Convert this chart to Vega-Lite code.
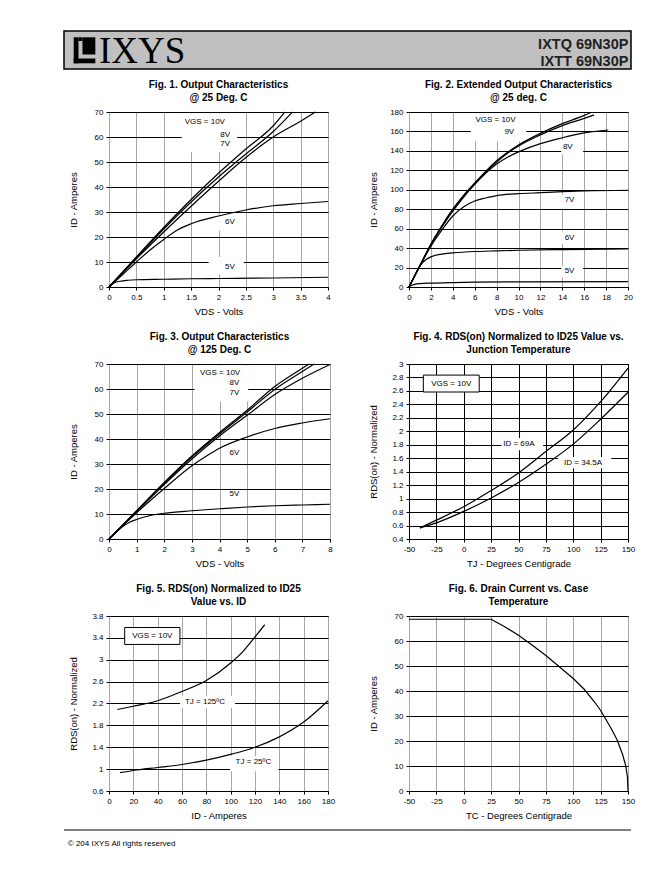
{
  "$schema": "https://vega.github.io/schema/vega-lite/v6.json",
  "background": "white",
  "padding": {"left": 63, "top": 30, "right": 0, "bottom": 0},
  "config": {
    "font": "Liberation Sans",
    "locale": {"number": {"decimal": ".", "thousands": ",", "grouping": [3], "currency": ["$", ""], "minus": "-"}},
    "view": {"stroke": "#000", "strokeWidth": 1},
    "axis": {"labelFont": "Liberation Sans", "labelFontSize": 8, "labelColor": "#000", "titleFont": "Liberation Sans", "titleFontSize": 9.5, "titleFontWeight": "normal", "titleColor": "#000", "tickColor": "#000", "tickSize": 3, "domain": false, "gridOpacity": 1, "gridWidth": 1, "labelPadding": 3, "labelExpr": "format(datum.value, '~r')", "labelOverlap": false, "labelFlush": false},
    "axisY": {"gridColor": "#000", "minExtent": 21, "maxExtent": 21, "titlePadding": 10},
    "axisX": {"gridColor": "#a6a6a6", "titlePadding": 5},
    "title": {"font": "Liberation Sans", "fontSize": 10, "fontWeight": "bold", "color": "#000", "anchor": "middle", "frame": "group", "offset": 5, "lineHeight": 13},
    "text": {"font": "Liberation Sans", "fontSize": 8, "color": "#000"}
  },
  "datasets": {
    "box": [{"x": -8.62, "x2": 100, "y": 0, "y2": 100}],
    "logo": [
      {"x": -6.76, "x2": -5.84, "y": 15, "y2": 83.4},
      {"x": -6.76, "x2": -2.62, "y": 15, "y2": 27.6},
      {"x": -5.08, "x2": -2.62, "y": 38.2, "y2": 83.4},
      {"x": -5.84, "x2": -5.08, "y": 73.7, "y2": 83.4}
    ],
    "brand": [{"t": "IXYS", "x": -1.92, "y": 17.1}],
    "parts": [{"t": "IXTQ  69N30P", "x": 99.5, "y": 52.6}, {"t": "IXTT  69N30P", "x": 99.5, "y": 8.7}],
    "footline": [{"x": -8.62, "x2": 100, "y": 100}],
    "foottext": [{"t": "© 204 IXYS All rights reserved", "x": -7.9, "y": 22}],
    "d1": [
      {"c": "10V", "x": 0, "y": 0}, {"c": "10V", "x": 0.25, "y": 6}, {"c": "10V", "x": 0.5, "y": 12}, {"c": "10V", "x": 1, "y": 23.8}, {"c": "10V", "x": 1.5, "y": 35}, {"c": "10V", "x": 2, "y": 45.5}, {"c": "10V", "x": 2.5, "y": 55.2}, {"c": "10V", "x": 3, "y": 64.5}, {"c": "10V", "x": 3.21, "y": 70},
      {"c": "8V", "x": 0, "y": 0}, {"c": "8V", "x": 0.5, "y": 11.7}, {"c": "8V", "x": 1, "y": 23.2}, {"c": "8V", "x": 1.5, "y": 34}, {"c": "8V", "x": 2, "y": 44}, {"c": "8V", "x": 2.5, "y": 53.2}, {"c": "8V", "x": 3, "y": 62.2}, {"c": "8V", "x": 3.35, "y": 70},
      {"c": "7V", "x": 0, "y": 0}, {"c": "7V", "x": 0.5, "y": 11.3}, {"c": "7V", "x": 1, "y": 22}, {"c": "7V", "x": 1.5, "y": 32.3}, {"c": "7V", "x": 2, "y": 42.3}, {"c": "7V", "x": 2.5, "y": 51.8}, {"c": "7V", "x": 3, "y": 60}, {"c": "7V", "x": 3.5, "y": 66.3}, {"c": "7V", "x": 3.77, "y": 70},
      {"c": "6V", "x": 0, "y": 0}, {"c": "6V", "x": 0.25, "y": 5}, {"c": "6V", "x": 0.5, "y": 10}, {"c": "6V", "x": 0.75, "y": 14.8}, {"c": "6V", "x": 1, "y": 19}, {"c": "6V", "x": 1.25, "y": 22.8}, {"c": "6V", "x": 1.5, "y": 25.3}, {"c": "6V", "x": 2, "y": 28.4}, {"c": "6V", "x": 2.5, "y": 30.8}, {"c": "6V", "x": 3, "y": 32.5}, {"c": "6V", "x": 3.5, "y": 33.4}, {"c": "6V", "x": 4, "y": 34.2},
      {"c": "5V", "x": 0, "y": 0}, {"c": "5V", "x": 0.05, "y": 1}, {"c": "5V", "x": 0.1, "y": 1.7}, {"c": "5V", "x": 0.2, "y": 2.3}, {"c": "5V", "x": 0.35, "y": 2.7}, {"c": "5V", "x": 0.5, "y": 2.9}, {"c": "5V", "x": 1, "y": 3.1}, {"c": "5V", "x": 1.5, "y": 3.3}, {"c": "5V", "x": 2, "y": 3.4}, {"c": "5V", "x": 3, "y": 3.6}, {"c": "5V", "x": 4, "y": 3.9}
    ],
    "m1": [
      {"x": 1.33, "x2": 2.34, "y": 54, "y2": 69.4},
      {"x": 1.95, "x2": 2.47, "y": 22.5, "y2": 29},
      {"x": 1.82, "x2": 2.46, "y": 5, "y2": 12}
    ],
    "t1": [
      {"t": "VGS = 10V", "x": 1.75, "y": 66.1},
      {"t": "8V", "x": 2.12, "y": 61},
      {"t": "7V", "x": 2.12, "y": 57.4},
      {"t": "6V", "x": 2.21, "y": 25.9},
      {"t": "5V", "x": 2.21, "y": 8.2}
    ],
    "d2": [
      {"c": "10V", "x": 0, "y": 0}, {"c": "10V", "x": 0.5, "y": 11}, {"c": "10V", "x": 1, "y": 22}, {"c": "10V", "x": 2, "y": 44}, {"c": "10V", "x": 3, "y": 63}, {"c": "10V", "x": 4, "y": 80}, {"c": "10V", "x": 5, "y": 94.5}, {"c": "10V", "x": 6, "y": 107}, {"c": "10V", "x": 7, "y": 119}, {"c": "10V", "x": 8, "y": 130}, {"c": "10V", "x": 9, "y": 138.5}, {"c": "10V", "x": 10, "y": 146}, {"c": "10V", "x": 12, "y": 158}, {"c": "10V", "x": 14, "y": 168}, {"c": "10V", "x": 16, "y": 176.5}, {"c": "10V", "x": 16.6, "y": 179.5},
      {"c": "9V", "x": 0, "y": 0}, {"c": "9V", "x": 0.5, "y": 11}, {"c": "9V", "x": 1, "y": 22}, {"c": "9V", "x": 2, "y": 44}, {"c": "9V", "x": 3, "y": 62.5}, {"c": "9V", "x": 4, "y": 79.5}, {"c": "9V", "x": 5, "y": 94}, {"c": "9V", "x": 6, "y": 106}, {"c": "9V", "x": 7, "y": 118}, {"c": "9V", "x": 8, "y": 128.5}, {"c": "9V", "x": 9, "y": 137.5}, {"c": "9V", "x": 10, "y": 145}, {"c": "9V", "x": 12, "y": 156.5}, {"c": "9V", "x": 14, "y": 166}, {"c": "9V", "x": 16, "y": 173.5}, {"c": "9V", "x": 16.9, "y": 177},
      {"c": "8V", "x": 0, "y": 0}, {"c": "8V", "x": 0.5, "y": 11}, {"c": "8V", "x": 1, "y": 22}, {"c": "8V", "x": 2, "y": 43.5}, {"c": "8V", "x": 3, "y": 61.5}, {"c": "8V", "x": 4, "y": 78}, {"c": "8V", "x": 5, "y": 92.5}, {"c": "8V", "x": 6, "y": 105.5}, {"c": "8V", "x": 7, "y": 117}, {"c": "8V", "x": 8, "y": 126.5}, {"c": "8V", "x": 9, "y": 133.5}, {"c": "8V", "x": 10, "y": 139}, {"c": "8V", "x": 12, "y": 147.5}, {"c": "8V", "x": 14, "y": 153.5}, {"c": "8V", "x": 16, "y": 158.5}, {"c": "8V", "x": 18.2, "y": 161.5},
      {"c": "7V", "x": 0, "y": 0}, {"c": "7V", "x": 0.5, "y": 11}, {"c": "7V", "x": 1, "y": 21.5}, {"c": "7V", "x": 2, "y": 42}, {"c": "7V", "x": 3, "y": 58.5}, {"c": "7V", "x": 4, "y": 73}, {"c": "7V", "x": 5, "y": 82.5}, {"c": "7V", "x": 6, "y": 88.5}, {"c": "7V", "x": 7, "y": 91.5}, {"c": "7V", "x": 8, "y": 94}, {"c": "7V", "x": 10, "y": 96}, {"c": "7V", "x": 12, "y": 97}, {"c": "7V", "x": 14, "y": 98}, {"c": "7V", "x": 16, "y": 98.8}, {"c": "7V", "x": 20, "y": 99.5},
      {"c": "6V", "x": 0, "y": 0}, {"c": "6V", "x": 0.4, "y": 9}, {"c": "6V", "x": 0.8, "y": 18}, {"c": "6V", "x": 1.2, "y": 24.5}, {"c": "6V", "x": 1.6, "y": 28.5}, {"c": "6V", "x": 2, "y": 31}, {"c": "6V", "x": 3, "y": 33.8}, {"c": "6V", "x": 4, "y": 35}, {"c": "6V", "x": 6, "y": 36.5}, {"c": "6V", "x": 8, "y": 37.2}, {"c": "6V", "x": 10, "y": 37.8}, {"c": "6V", "x": 14, "y": 38.5}, {"c": "6V", "x": 20, "y": 39.2},
      {"c": "5V", "x": 0, "y": 0}, {"c": "5V", "x": 0.3, "y": 2}, {"c": "5V", "x": 0.6, "y": 3}, {"c": "5V", "x": 1, "y": 3.5}, {"c": "5V", "x": 2, "y": 4}, {"c": "5V", "x": 4, "y": 4.6}, {"c": "5V", "x": 6, "y": 5}, {"c": "5V", "x": 10, "y": 5.3}, {"c": "5V", "x": 20, "y": 5.6}
    ],
    "m2": [
      {"x": 5.65, "x2": 10.7, "y": 150, "y2": 179},
      {"x": 13.9, "x2": 15.9, "y": 136, "y2": 151},
      {"x": 13.9, "x2": 15.9, "y": 80.5, "y2": 95},
      {"x": 13.9, "x2": 15.9, "y": 44, "y2": 57},
      {"x": 13.9, "x2": 15.9, "y": 10, "y2": 22}
    ],
    "t2": [
      {"t": "VGS = 10V", "x": 7.9, "y": 171.4},
      {"t": "9V", "x": 9.16, "y": 159.7},
      {"t": "8V", "x": 14.5, "y": 144.3},
      {"t": "7V", "x": 14.66, "y": 89},
      {"t": "6V", "x": 14.66, "y": 50.5},
      {"t": "5V", "x": 14.66, "y": 16.1}
    ],
    "d3": [
      {"c": "10V", "x": 0, "y": 0}, {"c": "10V", "x": 1, "y": 11.3}, {"c": "10V", "x": 2, "y": 22.6}, {"c": "10V", "x": 3, "y": 33.2}, {"c": "10V", "x": 4, "y": 42.6}, {"c": "10V", "x": 5, "y": 51.5}, {"c": "10V", "x": 6, "y": 61}, {"c": "10V", "x": 7, "y": 68.3}, {"c": "10V", "x": 7.24, "y": 70},
      {"c": "8V", "x": 0, "y": 0}, {"c": "8V", "x": 1, "y": 11.2}, {"c": "8V", "x": 2, "y": 22.3}, {"c": "8V", "x": 3, "y": 32.8}, {"c": "8V", "x": 4, "y": 42}, {"c": "8V", "x": 5, "y": 50.8}, {"c": "8V", "x": 6, "y": 59.8}, {"c": "8V", "x": 7, "y": 67}, {"c": "8V", "x": 7.42, "y": 70},
      {"c": "7V", "x": 0, "y": 0}, {"c": "7V", "x": 1, "y": 11}, {"c": "7V", "x": 2, "y": 21.8}, {"c": "7V", "x": 3, "y": 32}, {"c": "7V", "x": 4, "y": 41.2}, {"c": "7V", "x": 5, "y": 49.5}, {"c": "7V", "x": 6, "y": 57.8}, {"c": "7V", "x": 7, "y": 64.3}, {"c": "7V", "x": 8, "y": 69.8},
      {"c": "6V", "x": 0, "y": 0}, {"c": "6V", "x": 1, "y": 10.5}, {"c": "6V", "x": 2, "y": 20.2}, {"c": "6V", "x": 3, "y": 29.3}, {"c": "6V", "x": 3.5, "y": 33}, {"c": "6V", "x": 4, "y": 36.3}, {"c": "6V", "x": 5, "y": 40.8}, {"c": "6V", "x": 6, "y": 44.2}, {"c": "6V", "x": 7, "y": 46.4}, {"c": "6V", "x": 8, "y": 48.1},
      {"c": "5V", "x": 0, "y": 0}, {"c": "5V", "x": 0.5, "y": 5}, {"c": "5V", "x": 0.75, "y": 6.7}, {"c": "5V", "x": 1, "y": 7.8}, {"c": "5V", "x": 1.5, "y": 9.4}, {"c": "5V", "x": 2, "y": 10.3}, {"c": "5V", "x": 3, "y": 11.3}, {"c": "5V", "x": 4, "y": 12.1}, {"c": "5V", "x": 5, "y": 12.8}, {"c": "5V", "x": 6, "y": 13.3}, {"c": "5V", "x": 7, "y": 13.6}, {"c": "5V", "x": 8, "y": 13.9}
    ],
    "m3": [
      {"x": 3.1, "x2": 5.04, "y": 55, "y2": 69.4}
    ],
    "t3": [
      {"t": "VGS = 10V", "x": 4.02, "y": 66.4},
      {"t": "8V", "x": 4.54, "y": 62.4},
      {"t": "7V", "x": 4.54, "y": 58.4},
      {"t": "6V", "x": 4.54, "y": 34.5},
      {"t": "5V", "x": 4.54, "y": 17.9}
    ],
    "d4": [
      {"c": "69A", "x": -40, "y": 0.565}, {"c": "69A", "x": -25, "y": 0.68}, {"c": "69A", "x": 0, "y": 0.88}, {"c": "69A", "x": 25, "y": 1.12}, {"c": "69A", "x": 50, "y": 1.38}, {"c": "69A", "x": 75, "y": 1.7}, {"c": "69A", "x": 100, "y": 2.02}, {"c": "69A", "x": 125, "y": 2.44}, {"c": "69A", "x": 150, "y": 2.94},
      {"c": "34.5A", "x": -40, "y": 0.565}, {"c": "34.5A", "x": -25, "y": 0.64}, {"c": "34.5A", "x": 0, "y": 0.81}, {"c": "34.5A", "x": 25, "y": 1.01}, {"c": "34.5A", "x": 50, "y": 1.24}, {"c": "34.5A", "x": 75, "y": 1.51}, {"c": "34.5A", "x": 100, "y": 1.81}, {"c": "34.5A", "x": 125, "y": 2.18}, {"c": "34.5A", "x": 150, "y": 2.58}
    ],
    "m4": [
      {"x": 34.5, "x2": 72.5, "y": 1.72, "y2": 1.9},
      {"x": 86.2, "x2": 134.8, "y": 1.45, "y2": 1.62}
    ],
    "b4": [
      {"x": -36.9, "x2": 14.1, "y": 2.584, "y2": 2.835}
    ],
    "t4": [
      {"t": "VGS = 10V", "x": -11.4, "y": 2.71},
      {"t": "ID = 69A", "x": 50.3, "y": 1.81},
      {"t": "ID = 34.5A", "x": 109, "y": 1.53}
    ],
    "d5": [
      {"c": "125", "x": 6.9, "y": 2.09}, {"c": "125", "x": 20, "y": 2.15}, {"c": "125", "x": 40, "y": 2.25}, {"c": "125", "x": 60, "y": 2.42}, {"c": "125", "x": 80, "y": 2.62}, {"c": "125", "x": 100, "y": 2.94}, {"c": "125", "x": 110, "y": 3.15}, {"c": "125", "x": 120, "y": 3.42}, {"c": "125", "x": 128, "y": 3.64},
      {"c": "25", "x": 9, "y": 0.935}, {"c": "25", "x": 20, "y": 0.975}, {"c": "25", "x": 40, "y": 1.03}, {"c": "25", "x": 60, "y": 1.085}, {"c": "25", "x": 80, "y": 1.165}, {"c": "25", "x": 100, "y": 1.27}, {"c": "25", "x": 120, "y": 1.4}, {"c": "25", "x": 140, "y": 1.59}, {"c": "25", "x": 160, "y": 1.86}, {"c": "25", "x": 180, "y": 2.25}
    ],
    "m5": [
      {"x": 58.3, "x2": 103.6, "y": 2.12, "y2": 2.34},
      {"x": 99.5, "x2": 139.3, "y": 0.96, "y2": 1.24}
    ],
    "b5": [
      {"x": 12.9, "x2": 58.3, "y": 3.28, "y2": 3.59}
    ],
    "t5": [
      {"t": "VGS = 10V", "x": 35.6, "y": 3.435},
      {"t": "TJ = 125ºC", "x": 78.9, "y": 2.23},
      {"t": "TJ = 25ºC", "x": 118.7, "y": 1.137}
    ],
    "d6": [
      {"x": -50, "y": 68.7}, {"x": 25, "y": 68.7}, {"x": 37, "y": 65.8}, {"x": 50, "y": 62.3}, {"x": 62, "y": 58.5}, {"x": 75, "y": 54.2}, {"x": 87, "y": 49.8}, {"x": 100, "y": 45}, {"x": 110, "y": 40.7}, {"x": 120, "y": 35.3}, {"x": 125, "y": 32.2}, {"x": 130, "y": 28.5}, {"x": 135, "y": 24.7}, {"x": 140, "y": 20.5}, {"x": 145, "y": 14.7}, {"x": 148, "y": 10}, {"x": 149.5, "y": 5.5}, {"x": 150, "y": 0}
    ]
  },
  "columns": 1,
  "spacing": 9,
  "concat": [
    {
      "width": 522, "height": 38,
      "view": {"stroke": null},
      "encoding": {
        "x": {"field": "x", "type": "quantitative", "scale": {"domain": [0, 100], "nice": false, "zero": false}, "axis": null},
        "y": {"field": "y", "type": "quantitative", "scale": {"domain": [0, 100], "nice": false, "zero": false}, "axis": null}
      },
      "layer": [
        {"data": {"name": "box"}, "mark": {"type": "rect", "fill": "#c0c0c0", "stroke": "#000", "strokeWidth": 1.5}, "encoding": {"x2": {"field": "x2"}, "y2": {"field": "y2"}}},
        {"data": {"name": "logo"}, "mark": {"type": "rect", "color": "#000"}, "encoding": {"x2": {"field": "x2"}, "y2": {"field": "y2"}}},
        {"data": {"name": "brand"}, "mark": {"type": "text", "font": "Liberation Serif", "fontSize": 37, "align": "left", "baseline": "alphabetic", "color": "#000"}, "encoding": {"text": {"field": "t"}}},
        {"data": {"name": "parts"}, "mark": {"type": "text", "font": "Liberation Sans", "fontSize": 14.5, "fontWeight": "bold", "align": "right", "baseline": "alphabetic", "color": "#222"}, "encoding": {"text": {"field": "t"}}}
      ]
    },
    {
      "columns": 2,
      "spacing": {"row": 77, "column": 79},
      "bounds": "flush",
      "concat": [
        {
          "width": 219, "height": 175,
          "title": {"text": ["Fig. 1. Output Characteristics", "@ 25 Deg. C"]},
          "encoding": {
            "x": {"field": "x", "type": "quantitative", "scale": {"domain": [0, 4], "nice": false, "zero": false}, "axis": {"values": [0, 0.5, 1, 1.5, 2, 2.5, 3, 3.5, 4], "title": "VDS - Volts"}},
            "y": {"field": "y", "type": "quantitative", "scale": {"domain": [0, 70], "nice": false, "zero": false}, "axis": {"values": [0, 10, 20, 30, 40, 50, 60, 70], "title": "ID - Amperes"}}
          },
          "layer": [
            {"data": {"name": "m1"}, "mark": {"type": "rect", "fill": "white"}, "encoding": {"x2": {"field": "x2"}, "y2": {"field": "y2"}}},
            {"data": {"name": "d1"}, "mark": {"type": "line", "color": "#000", "strokeWidth": 1.2, "interpolate": "monotone"}, "encoding": {"detail": {"field": "c", "type": "nominal"}}},
            {"data": {"name": "t1"}, "mark": {"type": "text"}, "encoding": {"text": {"field": "t"}}}
          ]
        },
        {
          "width": 219, "height": 175,
          "title": {"text": ["Fig. 2. Extended Output Characteristics", "@ 25 deg. C"]},
          "encoding": {
            "x": {"field": "x", "type": "quantitative", "scale": {"domain": [0, 20], "nice": false, "zero": false}, "axis": {"values": [0, 2, 4, 6, 8, 10, 12, 14, 16, 18, 20], "title": "VDS - Volts"}},
            "y": {"field": "y", "type": "quantitative", "scale": {"domain": [0, 180], "nice": false, "zero": false}, "axis": {"values": [0, 20, 40, 60, 80, 100, 120, 140, 160, 180], "title": "ID - Amperes"}}
          },
          "layer": [
            {"data": {"name": "m2"}, "mark": {"type": "rect", "fill": "white"}, "encoding": {"x2": {"field": "x2"}, "y2": {"field": "y2"}}},
            {"data": {"name": "d2"}, "mark": {"type": "line", "color": "#000", "strokeWidth": 1.2, "interpolate": "monotone"}, "encoding": {"detail": {"field": "c", "type": "nominal"}}},
            {"data": {"name": "t2"}, "mark": {"type": "text"}, "encoding": {"text": {"field": "t"}}}
          ]
        },
        {
          "width": 221, "height": 175,
          "title": {"text": ["Fig. 3. Output Characteristics", "@ 125 Deg. C"]},
          "encoding": {
            "x": {"field": "x", "type": "quantitative", "scale": {"domain": [0, 8], "nice": false, "zero": false}, "axis": {"values": [0, 1, 2, 3, 4, 5, 6, 7, 8], "title": "VDS - Volts"}},
            "y": {"field": "y", "type": "quantitative", "scale": {"domain": [0, 70], "nice": false, "zero": false}, "axis": {"values": [0, 10, 20, 30, 40, 50, 60, 70], "title": "ID - Amperes"}}
          },
          "layer": [
            {"data": {"name": "m3"}, "mark": {"type": "rect", "fill": "white"}, "encoding": {"x2": {"field": "x2"}, "y2": {"field": "y2"}}},
            {"data": {"name": "d3"}, "mark": {"type": "line", "color": "#000", "strokeWidth": 1.2, "interpolate": "monotone"}, "encoding": {"detail": {"field": "c", "type": "nominal"}}},
            {"data": {"name": "t3"}, "mark": {"type": "text"}, "encoding": {"text": {"field": "t"}}}
          ]
        },
        {
          "width": 219, "height": 175,
          "title": {"text": ["Fig. 4. RDS(on) Normalized to ID25 Value vs.", "Junction Temperature"]},
          "encoding": {
            "x": {"field": "x", "type": "quantitative", "scale": {"domain": [-50, 150], "nice": false, "zero": false}, "axis": {"values": [-50, -25, 0, 25, 50, 75, 100, 125, 150], "title": "TJ - Degrees Centigrade", "gridColor": "#000"}},
            "y": {"field": "y", "type": "quantitative", "scale": {"domain": [0.4, 3], "nice": false, "zero": false}, "axis": {"values": [0.4, 0.6, 0.8, 1, 1.2, 1.4, 1.6, 1.8, 2, 2.2, 2.4, 2.6, 2.8, 3], "title": "RDS(on) - Normalized"}}
          },
          "layer": [
            {"data": {"name": "m4"}, "mark": {"type": "rect", "fill": "white"}, "encoding": {"x2": {"field": "x2"}, "y2": {"field": "y2"}}},
            {"data": {"name": "b4"}, "mark": {"type": "rect", "fill": "white", "stroke": "#000", "strokeWidth": 1}, "encoding": {"x2": {"field": "x2"}, "y2": {"field": "y2"}}},
            {"data": {"name": "d4"}, "mark": {"type": "line", "color": "#000", "strokeWidth": 1.2, "interpolate": "monotone"}, "encoding": {"detail": {"field": "c", "type": "nominal"}}},
            {"data": {"name": "t4"}, "mark": {"type": "text"}, "encoding": {"text": {"field": "t"}}}
          ]
        },
        {
          "width": 219, "height": 175,
          "title": {"text": ["Fig. 5. RDS(on) Normalized to ID25", "Value vs. ID"]},
          "encoding": {
            "x": {"field": "x", "type": "quantitative", "scale": {"domain": [0, 180], "nice": false, "zero": false}, "axis": {"values": [0, 20, 40, 60, 80, 100, 120, 140, 160, 180], "title": "ID - Amperes"}},
            "y": {"field": "y", "type": "quantitative", "scale": {"domain": [0.6, 3.8], "nice": false, "zero": false}, "axis": {"values": [0.6, 1, 1.4, 1.8, 2.2, 2.6, 3, 3.4, 3.8], "title": "RDS(on) - Normalized"}}
          },
          "layer": [
            {"data": {"name": "m5"}, "mark": {"type": "rect", "fill": "white"}, "encoding": {"x2": {"field": "x2"}, "y2": {"field": "y2"}}},
            {"data": {"name": "b5"}, "mark": {"type": "rect", "fill": "white", "stroke": "#000", "strokeWidth": 1}, "encoding": {"x2": {"field": "x2"}, "y2": {"field": "y2"}}},
            {"data": {"name": "d5"}, "mark": {"type": "line", "color": "#000", "strokeWidth": 1.2, "interpolate": "monotone"}, "encoding": {"detail": {"field": "c", "type": "nominal"}}},
            {"data": {"name": "t5"}, "mark": {"type": "text"}, "encoding": {"text": {"field": "t"}}}
          ]
        },
        {
          "width": 219, "height": 175,
          "title": {"text": ["Fig. 6. Drain Current vs. Case", "Temperature"]},
          "encoding": {
            "x": {"field": "x", "type": "quantitative", "scale": {"domain": [-50, 150], "nice": false, "zero": false}, "axis": {"values": [-50, -25, 0, 25, 50, 75, 100, 125, 150], "title": "TC - Degrees Centigrade"}},
            "y": {"field": "y", "type": "quantitative", "scale": {"domain": [0, 70], "nice": false, "zero": false}, "axis": {"values": [0, 10, 20, 30, 40, 50, 60, 70], "title": "ID - Amperes"}}
          },
          "layer": [
            {"data": {"name": "d6"}, "mark": {"type": "line", "color": "#000", "strokeWidth": 1.2}, "encoding": {}}
          ]
        }
      ]
    },
    {
      "width": 522, "height": 20,
      "view": {"stroke": null},
      "encoding": {
        "x": {"field": "x", "type": "quantitative", "scale": {"domain": [0, 100], "nice": false, "zero": false}, "axis": null},
        "y": {"field": "y", "type": "quantitative", "scale": {"domain": [0, 100], "nice": false, "zero": false}, "axis": null}
      },
      "layer": [
        {"data": {"name": "footline"}, "mark": {"type": "rule", "color": "#000", "strokeWidth": 1}, "encoding": {"x2": {"field": "x2"}}},
        {"data": {"name": "foottext"}, "mark": {"type": "text", "fontSize": 8, "align": "left", "baseline": "alphabetic"}, "encoding": {"text": {"field": "t"}}}
      ]
    }
  ]
}
